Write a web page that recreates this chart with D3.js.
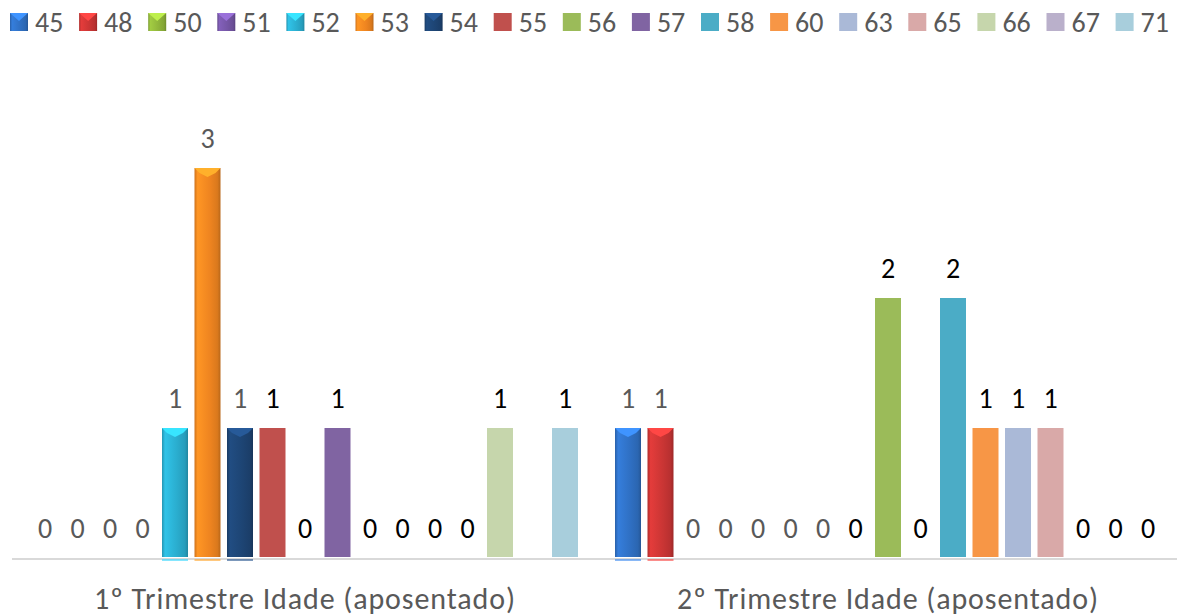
<!DOCTYPE html>
<html>
<head>
<meta charset="utf-8">
<script src="https://cdn.jsdelivr.net/npm/d3@7"></script>
<style>
  body { margin: 0; background: #fff; }
  svg text { font-family: Carlito, Lato, sans-serif; }
</style>
</head>
<body>
<div id="chart"></div>
<script>
var width = 1177, height = 616;

// data
var categories = ["1º Trimestre Idade (aposentado)", "2º Trimestre Idade (aposentado)"];
var series = ["45", "48", "50", "51", "52", "53", "54", "55", "56", "57", "58", "60", "63", "65", "66", "67", "71"];
var trim1 = [0, 0, 0, 0, 1, 3, 1, 1, 0, 1, 0, 0, 0, 0, 1, null, 1];
var trim2 = [1, 1, 0, 0, 0, 0, 0, 0, 2, 0, 2, 1, 1, 1, 0, 0, 0];
var values = [trim1, trim2];

var colors = ["#2f6fc2", "#c93534", "#8fb43a", "#7455a4", "#2aaccd", "#ee8420", "#1d4473",
              "#C0504D", "#9BBB59", "#8064A2", "#4BACC6", "#F79646", "#AAB9D7", "#D9A9A8", "#C6D6AC", "#BAB0CB", "#A8CEDC"];
// first seven series are drawn with the bevel style
var beveled = 7;

var svg = d3.select("#chart").append("svg")
   .attr("width", width)
   .attr("height", height);

var defs = svg.append("defs");
colors.slice(0, beveled).forEach(function(c, i) {
   var g = defs.append("linearGradient").attr("id", "grad" + i)
      .attr("x1", 0).attr("x2", 1).attr("y1", 0).attr("y2", 0);
   var base = d3.color(c);
   g.append("stop").attr("offset", "0%").attr("stop-color", base.darker(0.4));
   g.append("stop").attr("offset", "12%").attr("stop-color", base.brighter(0.35));
   g.append("stop").attr("offset", "60%").attr("stop-color", base);
   g.append("stop").attr("offset", "88%").attr("stop-color", base.darker(0.25));
   g.append("stop").attr("offset", "100%").attr("stop-color", base.darker(0.7));
});

function fillFor(i) {
   return i < beveled ? "url(#grad" + i + ")" : colors[i];
}

// scales
var x0 = d3.scaleBand()
   .domain(categories)
   .range([13.5, 1179.5])
   .padding(0);

var x1 = d3.scaleBand()
   .domain(series)
   .range([15.25, 567.75])
   .paddingInner(0.2)
   .paddingOuter(0.1);

var y = d3.scaleLinear()
   .domain([0, 3])
   .range([558, 168]);

// axis line
svg.append("line")
   .attr("x1", 12).attr("x2", width)
   .attr("y1", y(0) + 1).attr("y2", y(0) + 1)
   .attr("stroke", "#d9d9d9")
   .attr("stroke-width", 2);

// bars
var groups = svg.selectAll(".group")
   .data(categories)
   .enter().append("g")
   .attr("class", "group")
   .attr("transform", function(d) { return "translate(" + x0(d) + ",0)"; });

groups.each(function(cat, ci) {
   var g = d3.select(this);
   var rows = series.map(function(s, i) { return {s: s, i: i, v: values[ci][i]}; });

   rows.forEach(function(d) {
      if (d.v === null) return;
      var bx = x1(d.s), bw = x1.bandwidth();
      if (d.v > 0) {
         var top = y(d.v), bottom = y(0) - 1;
         g.append("rect")
            .attr("x", bx).attr("y", top)
            .attr("width", bw).attr("height", bottom - top)
            .attr("fill", fillFor(d.i));
         if (d.i < beveled) {
            var c = d3.color(colors[d.i]);
            g.append("path")
               .attr("d", "M" + bx + "," + top + "L" + (bx + bw) + "," + top +
                          "L" + (bx + bw - 5) + "," + (top + 5) + "L" + (bx + bw / 2) + "," + (top + 9) +
                          "L" + (bx + 5) + "," + (top + 5) + "Z")
               .attr("fill", c.brighter(0.8));
            g.append("rect")
               .attr("x", bx).attr("y", bottom + 2)
               .attr("width", bw).attr("height", 2)
               .attr("fill", c.brighter(0.6))
               .attr("opacity", 0.6);
         }
      }
      g.append("text")
         .attr("x", bx + bw / 2)
         .attr("y", y(d.v) - 20)
         .attr("text-anchor", "middle")
         .style("font-size", "28px")
         .attr("fill", d.i < beveled ? "#595959" : "#000")
         .text(d.v);
   });

   g.append("text")
      .attr("x", x0.bandwidth() / 2)
      .attr("y", 609)
      .attr("text-anchor", "middle")
      .style("font-size", "30px")
      .style("letter-spacing", "0.9px")
      .attr("fill", "#595959")
      .text(cat);
});

// legend
var legend = svg.selectAll(".legend")
   .data(series)
   .enter().append("g")
   .attr("class", "legend")
   .attr("transform", function(d, i) { return "translate(" + (10 + i * 69.1) + ",13)"; });

legend.append("rect")
   .attr("width", 18).attr("height", 18)
   .attr("fill", function(d, i) { return fillFor(i); });

legend.filter(function(d, i) { return i < beveled; })
   .append("path")
   .attr("d", "M0,0L18,0L9,8Z")
   .attr("fill", function(d, i) { return d3.color(colors[i]).brighter(0.8); });

legend.append("text")
   .attr("x", 25)
   .attr("y", 19)
   .style("font-size", "28px")
   .attr("fill", "#595959")
   .text(function(d) { return d; });
</script>
</body>
</html>
